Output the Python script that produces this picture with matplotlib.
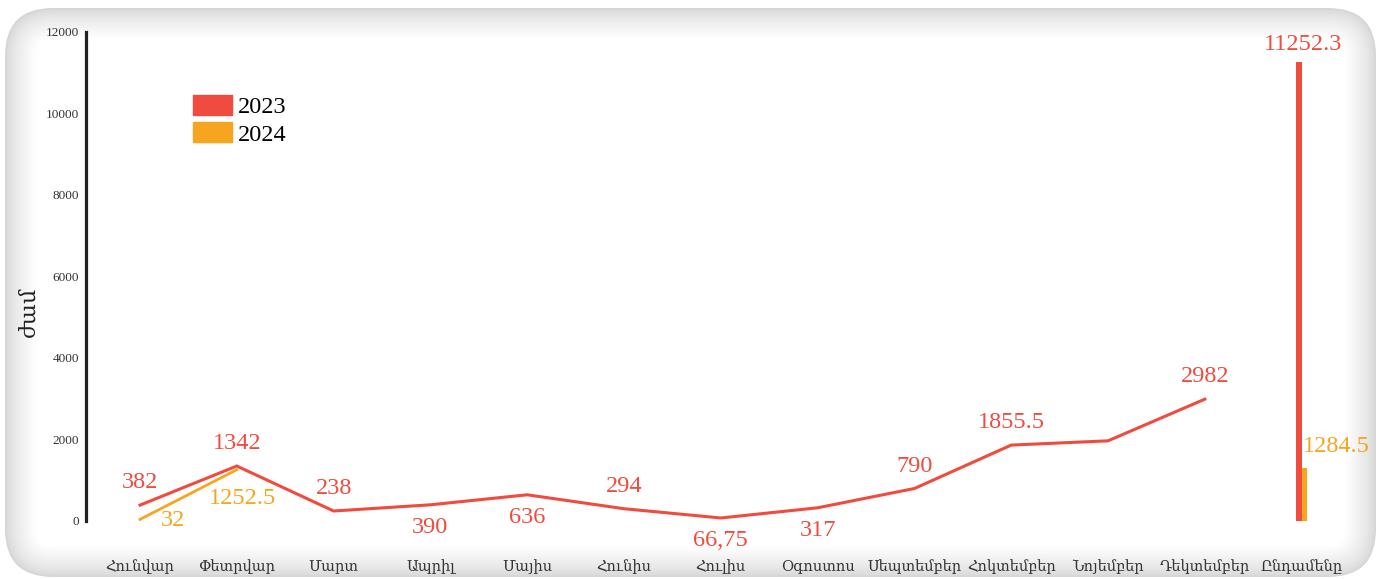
import numpy as np
import matplotlib.pyplot as plt
from matplotlib.patches import FancyBboxPatch, Patch

# monthly hours (Nov has no label, estimated)
months = ['Հունվար', 'Փետրվար', 'Մարտ', 'Ապրիլ', 'Մայիս', 'Հունիս', 'Հուլիս',
          'Օգոստոս', 'Սեպտեմբեր', 'Հոկտեմբեր', 'Նոյեմբեր', 'Դեկտեմբեր', 'Ընդամենը']
vals_2023 = [382, 1342, 238, 390, 636, 294, 66.75, 317, 790, 1855.5, 1960, 2982]
labels_2023 = ['382', '1342', '238', '390', '636', '294', '66,75', '317', '790', '1855.5', '', '2982']
vals_2024 = [32, 1252.5]
labels_2024 = ['32', '1252.5']
total_2023 = 11252.3
total_2024 = 1284.5
yticks = [0, 2000, 4000, 6000, 8000, 10000, 12000]

red = '#ef4b3e'
orange = '#f7a51f'
serif = ['Liberation Serif', 'DejaVu Serif', 'DejaVu Sans']
plt.rcParams['font.family'] = serif

W, H = 1384, 579
fig = plt.figure(figsize=(W / 100, H / 100), dpi=100)

# background card with soft inner shadow
bg = fig.add_axes([0, 0, 1, 1], zorder=-10)
bg.set_xlim(0, W)
bg.set_ylim(H, 0)
bg.axis('off')
n = 18
for k in range(n):
    c = 0.84 + 0.16 * (k / (n - 1)) ** 0.7
    ins = 1.8 * k
    bg.add_patch(FancyBboxPatch((5 + ins, 8 + ins), 1371 - 2 * ins, 569 - 2 * ins,
                                boxstyle='round,pad=0,rounding_size=%f' % max(48 - ins, 6),
                                fc=(c, c, c), ec='none'))

# main axes: 0 -> y 520.7px, 12000 -> y 31.7px ; category 0 at x 140px, step 96.8px
x0px, step = 140.0, 96.8
left_px, right_px = 86.0, 1358.0
ax = fig.add_axes([left_px / W, (H - 520.7) / H, (right_px - left_px) / W, 489.0 / H])
ax.set_xlim((left_px - x0px) / step, (right_px - x0px) / step)
ax.set_ylim(0, 12000)
ax.patch.set_alpha(0)
for s in ['top', 'right', 'bottom']:
    ax.spines[s].set_visible(False)
ax.spines['left'].set_linewidth(2.3)
ax.spines['left'].set_color('#222222')

x = np.arange(len(months))
ax.set_xticks(x)
ax.set_xticklabels(months, fontsize=10.5, color='#333333')
ax.set_yticks(yticks)
ax.set_yticklabels([str(t) for t in yticks], fontsize=9.5, color='#333333')
ax.tick_params(axis='x', length=0, pad=28)
ax.tick_params(axis='y', length=0, pad=5)
ax.set_ylabel('ժամ', fontsize=16, color='#222222')
ax.yaxis.set_label_coords((40 - left_px) / (right_px - left_px), (520.7 - 312) / 489.0)

ax.plot(x[:12], vals_2023, color=red, lw=2.2, clip_on=False, solid_joinstyle='miter')
ax.plot(x[:2], vals_2024, color=orange, lw=2.0, clip_on=False, solid_joinstyle='miter')

bw = 0.06
ax.bar(x[12] - bw / 2, total_2023, width=bw, color=red)
ax.bar(x[12] + bw / 2, total_2024, width=bw, color=orange)

# data labels: above/below the line point
above = [True, True, True, False, False, True, False, False, True, True, True, True]
for i, (v, t) in enumerate(zip(vals_2023, labels_2023)):
    if not t:
        continue
    dy = 16 if above[i] else -16
    ax.annotate(t, (x[i], v), xytext=(0, dy), textcoords='offset points',
                ha='center', va='center', fontsize=17.5, color=red, annotation_clip=False)
ax.annotate(labels_2024[0], (x[0], vals_2024[0]), xytext=(24, -1), textcoords='offset points',
            ha='center', va='center', fontsize=17.5, color=orange, annotation_clip=False)
ax.annotate(labels_2024[1], (x[1], vals_2024[1]), xytext=(4, -21), textcoords='offset points',
            ha='center', va='center', fontsize=17.5, color=orange, annotation_clip=False)
ax.annotate('11252.3', (x[12] - bw / 2, total_2023), xytext=(3, 13), textcoords='offset points',
            ha='center', va='center', fontsize=17.5, color=red, annotation_clip=False)
ax.annotate('1284.5', (x[12] + bw / 2, total_2024), xytext=(23, 16), textcoords='offset points',
            ha='center', va='center', fontsize=17.5, color=orange, annotation_clip=False)

handles = [Patch(color=red, label='2023'), Patch(color=orange, label='2024')]
fig.legend(handles=handles, loc='upper left', bbox_to_anchor=(193 / W, 1 - 95 / H),
           frameon=False, fontsize=17.5, handlelength=1.6, handleheight=0.9,
           handletextpad=0.25, labelspacing=0.15, borderpad=0, borderaxespad=0)

fig.savefig('out.png', dpi=100)
